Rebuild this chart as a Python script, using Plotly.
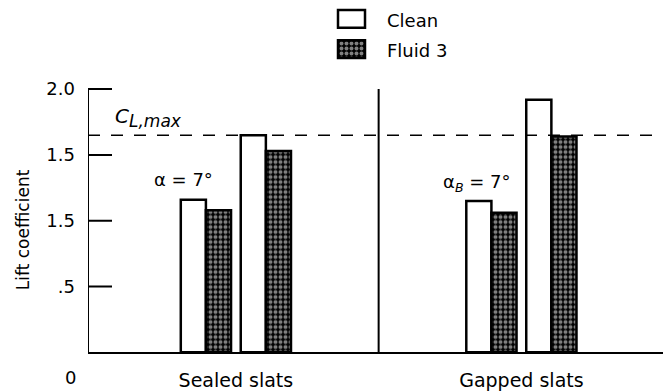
import plotly.graph_objects as go

# --- data -------------------------------------------------------------
configs = ["Sealed slats", "Gapped slats"]
clean_alpha7 = [1.16, 1.15]     # clean wing, alpha = 7 deg
fluid_alpha7 = [1.08, 1.06]     # with Fluid 3, alpha = 7 deg
clean_max = [1.65, 1.92]        # clean wing, maximum lift
fluid_max = [1.53, 1.64]        # with Fluid 3, maximum lift
cl_max_ref = 1.65               # reference C_L,max (dashed line)
ytick_vals = [0.5, 1.0, 1.5, 2.0]
ytick_text = [".5", "1.5", "1.5", "2.0"]

# --- layout constants (pixels of a 665 x 391 canvas) ------------------
W, H = 665, 391
PL, PR, PT, PB = 88, 663, 60, 355          # plot area edges
PX_PER_UNIT = 132.6
FONT = "DejaVu Sans"
BAR_W = 0.088
OFFS = {"c7": -0.149, "f7": -0.061, "cm": 0.061, "fm": 0.149}
XR = [-0.518, 1.496]
YR = [0, (PB - PT) / PX_PER_UNIT]
X_PER_PX = (XR[1] - XR[0]) / (PR - PL)
TICK_LEN = 24

def px(x):
    return x / W

def py(y):
    return 1 - y / H

grp = list(range(len(configs)))
pattern = dict(shape=".", fgcolor="white", bgcolor="black", size=5, solidity=0.5)
outline = dict(color="black", width=2.5)

fig = go.Figure()
fig.add_bar(x=[g + OFFS["c7"] for g in grp], y=clean_alpha7, width=BAR_W,
            marker=dict(color="white", line=outline), name="Clean")
fig.add_bar(x=[g + OFFS["f7"] for g in grp], y=fluid_alpha7, width=BAR_W,
            marker=dict(color="black", line=outline, pattern=pattern), name="Fluid 3")
fig.add_bar(x=[g + OFFS["cm"] for g in grp], y=clean_max, width=BAR_W,
            marker=dict(color="white", line=outline), name="Clean")
fig.add_bar(x=[g + OFFS["fm"] for g in grp], y=fluid_max, width=BAR_W,
            marker=dict(color="black", line=outline, pattern=pattern), name="Fluid 3")

# left axis: line from 0 to 2.0 plus inward tick marks, as one line trace
ax_x, ax_y = [XR[0], XR[0]], [0, 2.0]
for v in ytick_vals:
    ax_x += [None, XR[0], XR[0] + TICK_LEN * X_PER_PX]
    ax_y += [None, v, v]
fig.add_scatter(x=ax_x, y=ax_y, mode="lines", line=dict(color="black", width=2),
                cliponaxis=False, hoverinfo="skip", showlegend=False)

# legend swatches on their own small axes
LX0, LX1 = 338, 365
legend_rows = [("Clean", 19, "white", None), ("Fluid 3", 49.5, "black", pattern)]
for name, yc, col, pat in legend_rows:
    mk = dict(color=col, line=dict(color="black", width=2.5))
    if pat:
        mk["pattern"] = pat
    fig.add_bar(x=[LX1 - LX0], y=[yc], base=[LX0], width=18, orientation="h",
                marker=mk, xaxis="x2", yaxis="y2", showlegend=False)
    fig.add_annotation(x=px(385), y=py(yc + 1.5), xref="paper", yref="paper",
                       text=name, showarrow=False, xanchor="left", yanchor="middle",
                       font=dict(family=FONT, size=18, color="black"))

fig.update_layout(
    width=W, height=H, margin=dict(l=0, r=0, t=0, b=0),
    paper_bgcolor="white", plot_bgcolor="white",
    barmode="overlay", showlegend=False,
    font=dict(family=FONT, size=18, color="black"),
    xaxis=dict(domain=[px(PL), px(PR)], range=XR, showgrid=False, zeroline=False,
               showline=True, linecolor="black", linewidth=2,
               tickvals=grp, ticktext=configs, ticks="", ticklabelstandoff=10,
               tickfont=dict(family=FONT, size=19, color="black")),
    yaxis=dict(domain=[py(PB), py(PT)], range=YR, showgrid=False, zeroline=False,
               showline=False, tickvals=ytick_vals, ticktext=ytick_text,
               ticks="", ticklabelstandoff=12,
               tickfont=dict(family=FONT, size=18, color="black")),
    xaxis2=dict(domain=[px(334), px(369)], range=[334, 369], visible=False),
    yaxis2=dict(domain=[py(62), py(6)], range=[62, 6], visible=False, anchor="x2"),
)

# divider between the two slat configurations
fig.add_shape(type="line", xref="x", yref="y", x0=0.5, x1=0.5, y0=0, y1=2.0,
              line=dict(color="black", width=2))
# C_L,max reference line
fig.add_shape(type="line", xref="paper", yref="y", x0=px(PL), x1=px(655),
              y0=cl_max_ref, y1=cl_max_ref,
              line=dict(color="black", width=1.5, dash="12px,11px"))

fig.add_annotation(x=px(113), y=py(118), xref="paper", yref="paper",
                   text="<i>C</i><sub><i><span style='font-size:17px'>L,max</span></i></sub>",
                   showarrow=False, xanchor="left", yanchor="middle",
                   font=dict(family=FONT, size=20))
fig.add_annotation(x=px(183), y=py(181), xref="paper", yref="paper",
                   text="α = 7°", showarrow=False, xanchor="center", yanchor="middle",
                   font=dict(family=FONT, size=18))
fig.add_annotation(x=px(477), y=py(184), xref="paper", yref="paper",
                   text="α<sub><i>B</i></sub> = 7°", showarrow=False,
                   xanchor="center", yanchor="middle", font=dict(family=FONT, size=18))
fig.add_annotation(x=px(70), y=py(380), xref="paper", yref="paper",
                   text="0", showarrow=False, xanchor="center", yanchor="middle",
                   font=dict(family=FONT, size=18))
fig.add_annotation(x=px(23), y=py(232), xref="paper", yref="paper",
                   text="Lift coefficient", textangle=-90, showarrow=False,
                   xanchor="center", yanchor="middle", font=dict(family=FONT, size=17))

fig.write_html("out.html")
